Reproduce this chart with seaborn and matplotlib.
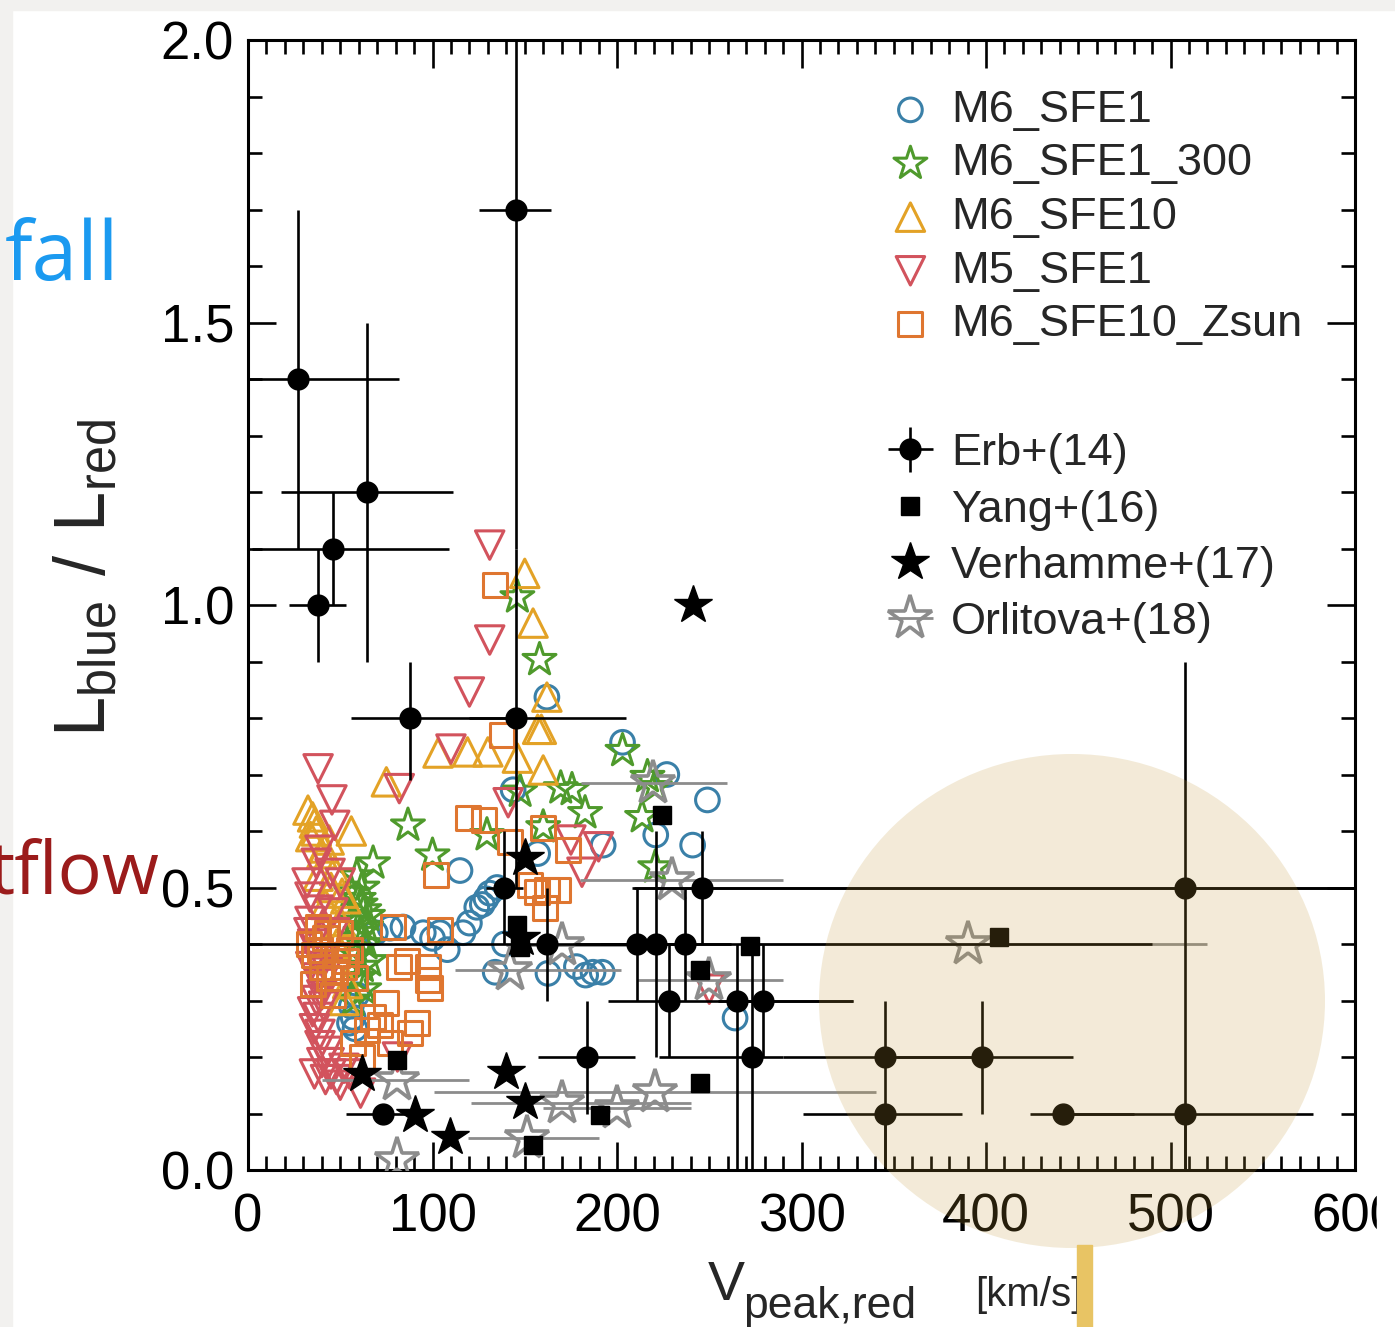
import matplotlib
matplotlib.use('Agg')
import matplotlib.pyplot as plt
from matplotlib.patches import Ellipse, Rectangle
from matplotlib.ticker import MultipleLocator
import seaborn as sns

# --- simulations (open markers) ---
M6_SFE1_X = [162, 203, 227, 249, 221, 241, 192.5, 157, 143.7, 114.9, 127, 129, 131, 135, 124, 120,
             116.5, 104, 108, 139, 134, 162.6, 178, 183, 187, 192, 264, 77, 84, 95, 69, 55, 58, 57, 100,
             56, 59]
M6_SFE1_Y = [0.837, 0.757, 0.70, 0.655, 0.593, 0.575, 0.575, 0.56, 0.673, 0.53, 0.47, 0.48, 0.49, 0.50,
             0.465, 0.437, 0.42, 0.42, 0.39, 0.40, 0.35, 0.348, 0.36, 0.345, 0.35, 0.35, 0.269, 0.428,
             0.43, 0.42, 0.42, 0.26, 0.25, 0.27, 0.41, 0.29, 0.31]

M6_SFE1_300_X = [146, 158, 203, 216.5, 220.5, 213.6, 220.7, 182.7, 175.6, 169.5, 147.5, 160, 129.5, 100,
                 86.7, 67.8, 59, 62, 60, 63, 58, 61, 64, 59, 62, 60, 63, 57, 65, 56, 61, 64, 58, 66]
M6_SFE1_300_Y = [1.014, 0.903, 0.742, 0.696, 0.678, 0.625, 0.536, 0.632, 0.673, 0.676, 0.67, 0.607, 0.593,
                 0.557, 0.61, 0.543, 0.52, 0.50, 0.48, 0.46, 0.44, 0.42, 0.40, 0.38, 0.36, 0.34, 0.32,
                 0.30, 0.45, 0.49, 0.47, 0.43, 0.41, 0.37]

M6_SFE10_X = [150, 154.5, 162, 157, 159, 103, 119, 130, 146, 160, 75, 56, 35, 32.5, 36, 44, 51, 53, 50,
              40, 38, 47, 54, 52, 48, 34, 42, 37, 45, 41]
M6_SFE10_Y = [1.056, 0.968, 0.837, 0.78, 0.78, 0.738, 0.74, 0.74, 0.729, 0.708, 0.687, 0.60, 0.625,
              0.637, 0.614, 0.584, 0.49, 0.48, 0.44, 0.56, 0.52, 0.53, 0.33, 0.30, 0.40, 0.59, 0.47,
              0.60, 0.50, 0.57]

M5_SFE1_X = [131, 131, 120, 110, 82, 38, 45.5, 47, 32, 33.6, 39, 37, 44.5, 50, 33.6, 46, 35, 38, 40, 37,
             38, 36, 39, 40, 36, 42, 45, 48, 52, 61, 81, 175, 190, 181, 141, 250, 43, 47,
             34, 37, 41, 35, 39, 43, 33, 38, 44, 50, 55, 40]
M5_SFE1_Y = [1.106, 0.938, 0.846, 0.745, 0.675, 0.71, 0.655, 0.61, 0.508, 0.483, 0.566, 0.543, 0.525,
             0.508, 0.44, 0.455, 0.40, 0.37, 0.33, 0.30, 0.27, 0.25, 0.22, 0.19, 0.17, 0.16, 0.17, 0.16,
             0.18, 0.136, 0.2, 0.584, 0.572, 0.527, 0.65, 0.32, 0.35, 0.42,
             0.36, 0.34, 0.29, 0.28, 0.24, 0.21, 0.42, 0.46, 0.19, 0.15, 0.17, 0.31]

M6_SFE10_ZSUN_X = [134, 137.7, 119, 128, 142, 160, 173.5, 102, 153, 156.5, 162, 168, 161, 104, 97.6,
                   97.6, 82, 98.7, 75, 68, 64.5, 71.6, 77, 88, 91.6, 57, 62, 78.6, 86, 33, 36, 40, 44,
                   48, 52, 35, 42, 50, 55, 38, 46, 39, 47, 53, 43, 58]
M6_SFE10_ZSUN_Y = [1.035, 0.77, 0.623, 0.62, 0.58, 0.605, 0.566, 0.522, 0.504, 0.492, 0.495, 0.495,
                   0.464, 0.425, 0.36, 0.336, 0.36, 0.322, 0.295, 0.27, 0.248, 0.257, 0.225, 0.242, 0.26,
                   0.225, 0.2, 0.43, 0.37, 0.40, 0.38, 0.36, 0.34, 0.38, 0.36, 0.33, 0.41, 0.42, 0.39,
                   0.43, 0.31, 0.39, 0.35, 0.37, 0.42, 0.34]

# --- observations ---
ERB_X = [27, 38, 46, 64.5, 145, 88, 145, 139, 162, 211, 221, 237, 246, 508, 228, 265, 279, 273, 184, 73,
         345, 398, 345, 442, 508]
ERB_Y = [1.40, 1.00, 1.10, 1.20, 1.70, 0.80, 0.80, 0.50, 0.40, 0.40, 0.40, 0.40, 0.50, 0.50, 0.30, 0.30,
         0.30, 0.20, 0.20, 0.10, 0.20, 0.20, 0.10, 0.10, 0.10]
ERB_XLO = [30, 16, 44, 46.5, 20, 32, 25, 10, 162, 20, 20, 60, 37, 300, 33, 10, 10, 50, 27, 20, 55, 47, 44,
           18, 68]
ERB_XHI = [55, 15, 63, 46.5, 19, 57, 60, 10, 100, 20, 20, 253, 360, 100, 100, 10, 49, 17, 26, 22, 55, 49,
           42, 38, 69]
ERB_YLO = [0.3, 0.1, 0.1, 0.3, 0.6, 0.11, 0.3, 0.1, 0.1, 0.1, 0.2, 0.1, 0.1, 0.5, 0.1, 0.3, 0.1, 0.2, 0.1,
           0.0, 0.2, 0.1, 0.1, 0.0, 0.1]
ERB_YHI = [0.3, 0.1, 0.1, 0.3, 0.6, 0.1, 0.3, 0.1, 0.1, 0.1, 0.2, 0.1, 0.1, 0.4, 0.1, 0.1, 0.1, 0.2, 0.1,
           0.0, 0.1, 0.1, 0.0, 0.0, 0.0]

YANG_X = [146, 147.5, 224.5, 272, 245, 191, 407, 154.5, 81, 245]
YANG_Y = [0.434, 0.395, 0.628, 0.396, 0.154, 0.097, 0.412, 0.044, 0.195, 0.354]

VERHAMME_X = [241, 140, 90.5, 109.5, 150, 150, 62, 148]
VERHAMME_Y = [1.0, 0.173, 0.097, 0.058, 0.12, 0.552, 0.17, 0.41]

ORLITOVA_X = [81, 81, 151, 170, 200, 220.6, 230, 250, 390, 142, 170, 219.6]
ORLITOVA_Y = [0.16, 0.018, 0.057, 0.118, 0.11, 0.138, 0.513, 0.336, 0.40, 0.354, 0.398, 0.685]
ORLITOVA_XLO = [41, 0, 32, 49, 40, 120, 50, 39, 120, 30, 30, 39]
ORLITOVA_XHI = [39, 0, 39, 70, 40, 120, 60, 40, 130, 60, 40, 40]

W, H = 1395, 1327


def fx(px):
    return px / W


def fy(py):
    return 1 - py / H


sns.set_style('ticks')
plt.rcParams['font.family'] = ['Liberation Sans', 'DejaVu Sans']
plt.rcParams['mathtext.fontset'] = 'custom'
plt.rcParams['mathtext.rm'] = 'Liberation Sans'

fig = plt.figure(figsize=(W / 100, H / 100), dpi=100)
fig.patch.set_facecolor('white')
ax = fig.add_axes([fx(248), fy(1170), (1355 - 248) / W, (1170 - 40) / H])

sims = [
    ('M6_SFE1', M6_SFE1_X, M6_SFE1_Y, 'o', 290, '#3a80a8'),
    ('M6_SFE1_300', M6_SFE1_300_X, M6_SFE1_300_Y, '*', 620, '#4f9a2c'),
    ('M6_SFE10', M6_SFE10_X, M6_SFE10_Y, '^', 420, '#e3a226'),
    ('M5_SFE1', M5_SFE1_X, M5_SFE1_Y, 'v', 420, '#d2535d'),
    ('M6_SFE10_Zsun', M6_SFE10_ZSUN_X, M6_SFE10_ZSUN_Y, 's', 300, '#df7630'),
]
sim_handles = []
for name, xs, ys, mk, size, col in sims:
    sns.scatterplot(x=xs, y=ys, ax=ax, marker=mk, s=size, color=col, facecolors='none',
                    edgecolor=col, linewidth=2.2, label=name, legend=False, zorder=3)
    sim_handles.append(ax.collections[-1])

# observations
grey = '#8c8c8c'
orl = ax.errorbar(ORLITOVA_X, ORLITOVA_Y, xerr=[ORLITOVA_XLO, ORLITOVA_XHI], fmt='*', ms=33,
                  mfc='none', mec=grey, mew=2.6, ecolor=grey, elinewidth=2.0, zorder=4,
                  label='Orlitova+(18)')
erb = ax.errorbar(ERB_X, ERB_Y, xerr=[ERB_XLO, ERB_XHI], yerr=[ERB_YLO, ERB_YHI], fmt='o', ms=15,
                  color='black', elinewidth=1.9, zorder=5, label='Erb+(14)')
yang, = ax.plot(YANG_X, YANG_Y, 's', ms=13, color='black', zorder=5, label='Yang+(16)')
ver, = ax.plot(VERHAMME_X, VERHAMME_Y, '*', ms=29, color='black', zorder=5, label='Verhamme+(17)')

ax.set_xlim(0, 600)
ax.set_ylim(0, 2.0)
ax.set_xticks([0, 100, 200, 300, 400, 500, 600])
ax.set_yticks([0.0, 0.5, 1.0, 1.5, 2.0])
ax.set_yticklabels(['0.0', '0.5', '1.0', '1.5', '2.0'])
ax.xaxis.set_minor_locator(MultipleLocator(10))
ax.yaxis.set_minor_locator(MultipleLocator(0.1))
ax.tick_params(which='both', direction='in', top=True, right=True, width=1.9, labelsize=38,
               colors='black')
ax.tick_params(which='major', length=20)
ax.tick_params(which='minor', length=10)
ax.tick_params(axis='x', pad=16)
ax.tick_params(axis='y', pad=10)
for sp in ax.spines.values():
    sp.set_linewidth(2.2)
    sp.set_color('black')
ax.set_xlabel('')
ax.set_ylabel('')

leg1 = ax.legend(sim_handles, [s[0] for s in sims], loc='upper left', bbox_to_anchor=(0.578, 0.956),
                 frameon=False, fontsize=32.5, handlelength=1.0, handletextpad=0.4, labelspacing=0.28,
                 borderpad=0, borderaxespad=0)
ax.add_artist(leg1)
ax.legend([erb, yang, ver, orl], ['Erb+(14)', 'Yang+(16)', 'Verhamme+(17)', 'Orlitova+(18)'],
          loc='upper left', bbox_to_anchor=(0.578, 0.652), frameon=False, fontsize=32.5,
          handlelength=1.0, handletextpad=0.4, labelspacing=0.34, borderpad=0, borderaxespad=0)

# axis labels
fig.text(fx(86), fy(578), r'$\mathregular{L_{blue}\ /\ L_{red}}$', rotation=90, ha='center',
         va='center', fontsize=52)
fig.text(fx(708), fy(1300), 'V', fontsize=40, ha='left', va='baseline')
fig.text(fx(743), fy(1318), 'peak,red', fontsize=32, ha='left', va='baseline')
fig.text(fx(975), fy(1306), '[km/s]', fontsize=29, ha='left', va='baseline')

# slide decorations
fig.add_artist(Rectangle((0, fy(10)), 1, 10 / H, transform=fig.transFigure, color='#f2f1ef',
                         zorder=1))
fig.add_artist(Rectangle((0, 0), 12 / W, 1, transform=fig.transFigure, color='#f2f1ef', zorder=1))
fig.add_artist(Rectangle((fx(1377), fy(1265)), 18 / W, 80 / H, transform=fig.transFigure,
                         color='white', zorder=4))
fig.text(fx(5), fy(280), 'fall', fontsize=59, color='#1b9af0', family='Open Sans', ha='left',
         va='baseline', zorder=6)
fig.text(fx(160), fy(893), 'tflow', fontsize=53, color='#9b1b1b', family='Open Sans', ha='right',
         va='baseline', zorder=6)
fig.add_artist(Ellipse((fx(1072), fy(1001)), 506 / W, 494 / H, transform=fig.transFigure,
                       facecolor='#c39a3c', edgecolor='none', alpha=0.2, zorder=7))
fig.add_artist(Rectangle((fx(1077), 0), 15 / W, 82 / H, transform=fig.transFigure, color='#e8c464',
                         zorder=8))

fig.savefig('out.png', dpi=100)
